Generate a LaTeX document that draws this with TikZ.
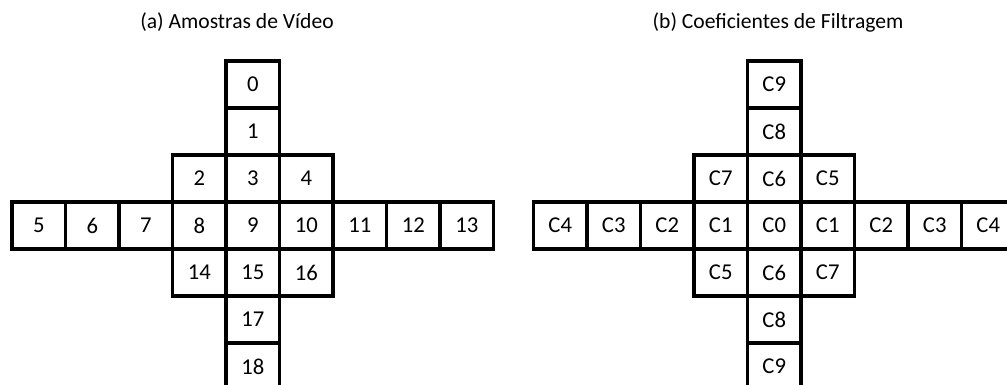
\documentclass[tikz,border=0pt]{standalone}
\usepackage{fontspec}
\setmainfont{Carlito}
\usetikzlibrary{positioning}

\begin{document}
\begin{tikzpicture}[x=0.75pt,y=-0.75pt]
	\tikzset{cell/.style={draw,line width=2.6pt,inner sep=0pt,
			minimum width=40.1pt,minimum height=35.25pt,
			font=\fontsize{17}{20}\selectfont},
		title/.style={font=\fontsize{16.2}{19}\selectfont}}
	\useasboundingbox (0,0) rectangle (1007,385);
	\clip (0,0) rectangle (1007,385);
	
	% (a) video samples
	\node[title] (titleA) at (237,22) {(a) Amostras de Vídeo};
	\foreach \r/\c/\t in {0/4/0, 1/4/1, 2/3/2, 2/4/3, 2/5/4,
		3/0/5, 3/1/6, 3/2/7, 3/3/8, 3/4/9, 3/5/10, 3/6/11, 3/7/12, 3/8/13,
		4/3/14, 4/4/15, 4/5/16, 5/4/17, 6/4/18}
		\node[cell] (a-\r-\c) at ({12+53.5*(\c+0.5)},{61+47*(\r+0.5)}) {\t};
	
	% (b) filter coefficients
	\node[title] (titleB) at (778,22) {(b) Coeficientes de Filtragem};
	\foreach \r/\c/\t in {0/4/C9, 1/4/C8, 2/3/C7, 2/4/C6, 2/5/C5,
		3/0/C4, 3/1/C3, 3/2/C2, 3/3/C1, 3/4/C0, 3/5/C1, 3/6/C2, 3/7/C3, 3/8/C4,
		4/3/C5, 4/4/C6, 4/5/C7, 5/4/C8, 6/4/C9}
		\node[cell] (b-\r-\c) at ({533.5+53.5*(\c+0.5)},{61+47*(\r+0.5)}) {\t};
	
\end{tikzpicture}
\end{document}
